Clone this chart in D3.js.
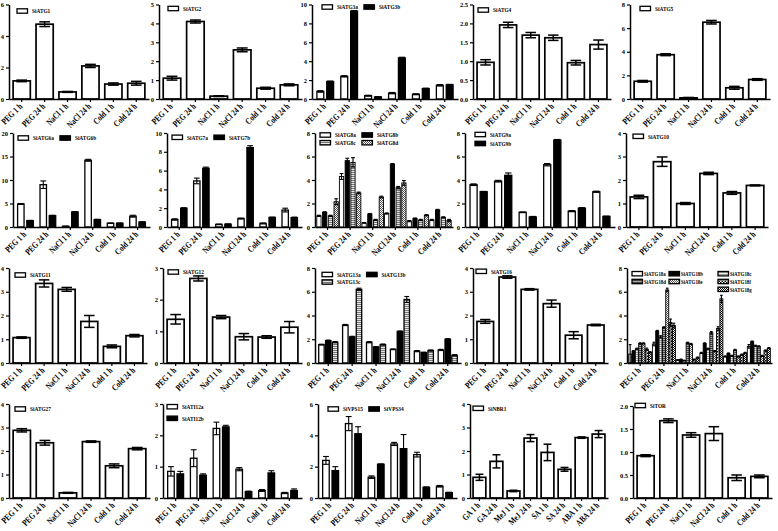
<!DOCTYPE html>
<html><head><meta charset="utf-8">
<script src="https://cdn.jsdelivr.net/npm/d3@7"></script>
<style>
body{margin:0;background:#fff}
svg{display:block}
text{font-family:"Liberation Serif","Times New Roman",serif;font-weight:bold;fill:#000}
</style>
</head><body><svg id="c" width="778" height="531"></svg>
<script>
// ---------- DATA ----------
const stressCats = ["PEG 1 h","PEG 24 h","NaCl 1 h","NaCl 24 h","Cold 1 h","Cold 24 h"];
const hormoneCats = ["GA 1 h","GA 24 h","MeJ 1 h","MeJ 24 h","SA 1 h","SA 24 h","ABA 1 h","ABA 24 h"];

const ticks6 = [0,2,4,6];
const ticks5 = [0,1,2,3,4,5];
const ticks10 = [0,2,4,6,8,10];
const ticks25 = [0,0.5,1,1.5,2,2.5];
const ticks8 = [0,2,4,6,8];
const ticks20 = [0,5,10,15,20];
const ticks4 = [0,1,2,3,4];
const ticks3 = [0,1,2,3];
const ticks2 = [0,0.5,1,1.5,2];

const atg1 = [1.15,4.75,0.45,2.1,0.95,1.0],  atg1E = [0.05,0.15,0.03,0.1,0.07,0.12];
const atg2 = [1.1,4.1,0.15,2.6,0.57,0.75],   atg2E = [0.1,0.08,0.02,0.1,0.05,0.05];
const atg3a = [0.8,2.4,0.35,0.62,0.5,1.45],  atg3aE = [0.08,0.07,0.05,0.07,0.05,0.08];
const atg3b = [1.85,9.3,0.22,4.35,1.1,1.5],  atg3bE = [0.05,0.05,0.03,0.07,0.05,0.05];
const atg4 = [0.97,1.96,1.69,1.62,0.96,1.44], atg4E = [0.07,0.07,0.07,0.07,0.06,0.12];
const atg5 = [1.5,3.75,0.1,6.5,0.95,1.65],   atg5E = [0.07,0.08,0.03,0.15,0.12,0.07];
const atg6a = [4.9,9.0,0.15,14.2,0.8,2.3],   atg6aE = [0.1,0.8,0.02,0.2,0.05,0.2];
const atg6b = [1.35,2.4,3.2,1.55,0.8,1.05],  atg6bE = [0.07,0.1,0.05,0.1,0.05,0.05];
const atg7a = [0.8,4.9,0.28,0.9,0.38,1.8],   atg7aE = [0.07,0.3,0.03,0.05,0.05,0.2];
const atg7b = [2.0,6.25,0.3,8.45,1.02,1.0],  atg7bE = [0.05,0.12,0.03,0.2,0.03,0.05];
const atg8a = [0.95,4.3,0.35,1.15,0.5,0.6],  atg8aE = [0.05,0.25,0.03,0.05,0.05,0.05];
const atg8b = [1.25,5.65,1.1,5.35,0.72,1.45], atg8bE = [0.05,0.2,0.05,0.05,0.05,0.05];
const atg8c = [0.95,5.5,0.6,3.35,0.6,0.82],  atg8cE = [0.05,0.4,0.05,0.1,0.05,0.05];
const atg8d = [2.15,2.9,2.55,3.75,1.0,0.55], atg8dE = [0.25,0.07,0.07,0.2,0.05,0.1];
const atg9a = [3.6,3.9,1.25,5.3,1.35,3.0],   atg9aE = [0.07,0.07,0.03,0.1,0.05,0.05];
const atg9b = [3.0,4.4,0.85,7.4,1.6,0.9],    atg9bE = [0.03,0.2,0.05,0.05,0.05,0.03];
const atg10 = [1.28,2.78,1.0,2.28,1.45,1.77], atg10E = [0.07,0.2,0.04,0.05,0.06,0.02];
const atg11 = [1.07,3.35,3.1,1.75,0.7,1.15], atg11E = [0.03,0.15,0.08,0.25,0.06,0.05];
const atg12 = [1.38,2.67,1.45,0.83,0.82,1.13], atg12E = [0.15,0.08,0.05,0.1,0.04,0.18];
const atg13a = [1.55,3.2,1.75,1.15,1.0,1.1], atg13aE = [0.03,0.05,0.05,0.03,0.05,0.05];
const atg13b = [1.88,2.2,1.35,2.65,0.88,2.0], atg13bE = [0.05,0.05,0.03,0.05,0.03,0.05];
const atg13c = [1.75,6.2,1.55,5.35,1.05,0.65], atg13cE = [0.05,0.1,0.05,0.25,0.05,0.05];
const atg16 = [1.75,3.62,3.1,2.5,1.17,1.6],  atg16E = [0.08,0.05,0.03,0.15,0.15,0.03];
const atg18a = [0.75,1.6,0.25,0.85,0.55,1.4], atg18aE = [0.8,0.15,0.03,0.05,0.05,0.15];
const atg18b = [1.0,2.7,0.3,1.65,0.8,1.8],   atg18bE = [0.05,0.05,0.03,0.05,0.05,0.05];
const atg18c = [1.2,2.2,0.2,1.2,0.6,1.45],   atg18cE = [0.05,0.1,0.03,0.05,0.05,0.05];
const atg18d = [1.65,3.0,1.7,2.55,1.1,1.4],  atg18dE = [0.05,0.05,0.05,0.1,0.05,0.05];
const atg18e = [1.65,6.15,1.6,1.0,0.55,0.6], atg18eE = [0.05,0.15,0.05,0.05,0.05,0.05];
const atg18f = [1.15,3.4,0.3,2.9,0.7,1.05],  atg18fE = [0.1,0.3,0.03,0.15,0.05,0.05];
const atg18g = [0.9,3.15,0.45,5.4,0.85,1.25], atg18gE = [0.05,0.2,0.05,0.3,0.05,0.05];
const atg27 = [2.88,2.35,0.22,2.4,1.37,2.1],  atg27E = [0.07,0.1,0.02,0.03,0.08,0.05];
const ati12a = [0.85,1.27,2.22,0.92,0.24,0.16], ati12aE = [0.15,0.27,0.2,0.05,0.03,0.02];
const ati12b = [0.77,0.73,2.27,0.2,0.8,0.24], ati12bE = [0.08,0.04,0.05,0.02,0.07,0.05];
const vps15 = [2.4,4.75,1.33,3.45,2.77,0.75], vps15E = [0.25,0.45,0.08,0.1,0.15,0.05];
const vps34 = [1.75,4.1,2.15,3.15,0.68,0.34], vps34E = [0.25,0.45,0.03,0.9,0.03,0.03];
const nbr1 = [0.88,1.56,0.3,2.55,1.94,1.22,2.57,2.72], nbr1E = [0.13,0.28,0.03,0.15,0.35,0.08,0.03,0.15];
const tor = [0.92,1.68,1.37,1.4,0.44,0.47],  torE = [0.02,0.04,0.05,0.15,0.06,0.03];

// ---------- PANELS (built from the arrays above) ----------
const W="white", B="black";
const panels = [
 {names:["SiATG1"], vals:[atg1], errs:[atg1E], fills:[W], ticks:ticks6, cats:stressCats},
 {names:["SiATG2"], vals:[atg2], errs:[atg2E], fills:[W], ticks:ticks5, cats:stressCats},
 {names:["SiATG3a","SiATG3b"], vals:[atg3a,atg3b], errs:[atg3aE,atg3bE], fills:[W,B], ticks:ticks10, cats:stressCats},
 {names:["SiATG4"], vals:[atg4], errs:[atg4E], fills:[W], ticks:ticks25, cats:stressCats},
 {names:["SiATG5"], vals:[atg5], errs:[atg5E], fills:[W], ticks:ticks8, cats:stressCats},
 {names:["SiATG6a","SiATG6b"], vals:[atg6a,atg6b], errs:[atg6aE,atg6bE], fills:[W,B], ticks:ticks20, cats:stressCats},
 {names:["SiATG7a","SiATG7b"], vals:[atg7a,atg7b], errs:[atg7aE,atg7bE], fills:[W,B], ticks:ticks10, cats:stressCats},
 {names:["SiATG8a","SiATG8b","SiATG8c","SiATG8d"], vals:[atg8a,atg8b,atg8c,atg8d], errs:[atg8aE,atg8bE,atg8cE,atg8dE], fills:[W,B,"url(#pStripe)","url(#pCheck)"], ticks:ticks8, cats:stressCats},
 {names:["SiATG9a","SiATG9b"], vals:[atg9a,atg9b], errs:[atg9aE,atg9bE], fills:[W,B], ticks:ticks8, cats:stressCats},
 {names:["SiATG10"], vals:[atg10], errs:[atg10E], fills:[W], ticks:ticks4, cats:stressCats},
 {names:["SiATG11"], vals:[atg11], errs:[atg11E], fills:[W], ticks:ticks4, cats:stressCats},
 {names:["SiATG12"], vals:[atg12], errs:[atg12E], fills:[W], ticks:ticks3, cats:stressCats},
 {names:["SiATG13a","SiATG13b","SiATG13c"], vals:[atg13a,atg13b,atg13c], errs:[atg13aE,atg13bE,atg13cE], fills:[W,B,"url(#pStripe)"], ticks:ticks8, cats:stressCats},
 {names:["SiATG16"], vals:[atg16], errs:[atg16E], fills:[W], ticks:ticks4, cats:stressCats},
 {names:["SiATG18a","SiATG18b","SiATG18c","SiATG18d","SiATG18e","SiATG18f","SiATG18g"],
  vals:[atg18a,atg18b,atg18c,atg18d,atg18e,atg18f,atg18g], errs:[atg18aE,atg18bE,atg18cE,atg18dE,atg18eE,atg18fE,atg18gE],
  fills:[W,B,"url(#pStripeL)","url(#pStripeD)","url(#pCheck)","url(#pBlk)","url(#pCross)"], ticks:ticks8, cats:stressCats},
 {names:["SiATG27"], vals:[atg27], errs:[atg27E], fills:[W], ticks:ticks4, cats:stressCats},
 {names:["SiATI12a","SiATI12b"], vals:[ati12a,ati12b], errs:[ati12aE,ati12bE], fills:[W,B], ticks:ticks3, cats:stressCats},
 {names:["SiVPS15","SiVPS34"], vals:[vps15,vps34], errs:[vps15E,vps34E], fills:[W,B], ticks:ticks6, cats:stressCats},
 {names:["SiNBR1"], vals:[nbr1], errs:[nbr1E], fills:[W], ticks:ticks4, cats:hormoneCats},
 {names:["SiTOR"], vals:[tor], errs:[torE], fills:[W], ticks:ticks2, cats:stressCats}
];

// ---------- LAYOUT ----------
const rowTop = [4.5,133,268,404];
const rowBase = [99,227,363,498];
const layout = [
 {l:9,r:149,row:0,lx:8,ly:6.5},{l:159,r:302,row:0,lx:9,ly:4},{l:312,r:458,row:0,lx:10,ly:2.5},{l:473,r:611,row:0,lx:5,ly:5.5},{l:630,r:770,row:0,lx:10,ly:4},
 {l:13,r:150,row:1,lx:5,ly:5},{l:167,r:302,row:1,lx:5,ly:4.3},{l:315,r:453,row:1,lx:5,ly:2,grid:[[0,0],[1,0],[0,1],[1,1]],rg:7.7},{l:465,r:615,row:1,lx:10,ly:1.5,grid:[[0,0],[0,1]],rg:9},{l:626,r:768,row:1,lx:7,ly:3.3},
 {l:9,r:147,row:2,lx:6,ly:7},{l:163,r:302,row:2,lx:5,ly:4},{l:315,r:461,row:2,lx:7,ly:6.5,grid:[[0,0],[1,0],[0,1]],rg:7.5},{l:473,r:608,row:2,lx:3,ly:3.3},{l:627,r:772,row:2,lx:5,ly:5.7,grid:[[0,0],[1,0],[2,0],[0,1],[1,1],[2,1],[2,2]],rg:7.8,cols:[0,37,86],fs:6},
 {l:9,r:150,row:3,lx:6,ly:5},{l:163,r:302,row:3,lx:4,ly:2.7,grid:[[0,0],[0,1]],rg:11.6},{l:318,r:457,row:3,lx:10,ly:5},{l:470,r:608,row:3,lx:3,ly:4.3},{l:633,r:772,row:3,lx:2,ly:-0.5,top:406}
];
const groupFrac = {1:0.75,2:0.7,3:0.8,4:0.95,7:0.97};
const innerPad = {1:0,2:0.3,3:0.2,4:0.26,7:0.1};

// ---------- DRAW ----------
const svg = d3.select("#c");
svg.append("rect").attr("width",778).attr("height",531).attr("fill","#fff");
const defs = svg.append("defs");
function pattern(id,w,h,bg,rects){
  const p = defs.append("pattern").attr("id",id).attr("patternUnits","userSpaceOnUse").attr("width",w).attr("height",h);
  p.append("rect").attr("width",w).attr("height",h).attr("fill",bg);
  rects.forEach(r=>p.append("rect").attr("x",r[0]).attr("y",r[1]).attr("width",r[2]).attr("height",r[3]).attr("fill",r[4]));
}
pattern("pStripe",2,2,"#e6e6e6",[[0,0,2,1,"#777"]]);
pattern("pStripeL",2,2,"#eee",[[0,0,2,1,"#999"]]);
pattern("pStripeD",2,2,"#aaa",[[0,0,2,1,"#444"]]);
pattern("pCheck",2,2,"#fff",[[0,0,1,1,"#555"],[1,1,1,1,"#555"]]);
pattern("pBlk",3,3,"#fff",[[0,0,1.5,1.5,"#000"],[1.5,1.5,1.5,1.5,"#000"]]);
pattern("pCross",4,4,"#fff",[[0,0,1,1,"#000"],[2,0,1,1,"#000"],[1,1,1,1,"#000"],[0,2,1,1,"#000"],[2,2,1,1,"#000"],[3,3,1,1,"#000"],[3,1,1,1,"#000"],[1,3,1,1,"#000"]]);

panels.forEach((p,i)=>{
  const L = layout[i];
  const top = L.top ?? rowTop[L.row], base = rowBase[L.row];
  const y = d3.scaleLinear().domain([0,d3.max(p.ticks)]).range([base,top]);
  const x = d3.scaleBand().domain(p.cats).range([L.l,L.r]).paddingInner(0.25).paddingOuter(0.18);
  const n = p.vals.length;
  const gw = x.step()*groupFrac[n];
  const xi = d3.scaleBand().domain(d3.range(n)).range([0,gw]).paddingInner(innerPad[n]);
  const bw = xi.bandwidth();
  const g = svg.append("g");
  const sw = n===1?1.7:(n<4?1.3:0.9);
  const cap = n===1?bw*0.62:bw*0.9;
  p.cats.forEach((c,ci)=>{
    const cx = x(c)+x.bandwidth()/2;
    for(let s=0;s<n;s++){
      const v = p.vals[s][ci], e = p.errs[s][ci];
      const bx = cx-gw/2+xi(s);
      g.append("rect").attr("x",bx).attr("y",y(v)).attr("width",bw).attr("height",base-y(v))
        .attr("fill",p.fills[s]).attr("stroke","#000").attr("stroke-width",sw);
      const mx = bx+bw/2, y1 = y(v+e), y0 = y(Math.max(0,v-e));
      const eg = g.append("g").attr("stroke","#000").attr("stroke-width",n===1?1.5:1.1);
      eg.append("line").attr("x1",mx).attr("x2",mx).attr("y1",y1).attr("y2",y0);
      eg.append("line").attr("x1",mx-cap/2).attr("x2",mx+cap/2).attr("y1",y1).attr("y2",y1);
      eg.append("line").attr("x1",mx-cap/2).attr("x2",mx+cap/2).attr("y1",y0).attr("y2",y0);
    }
  });
  // y axis
  const dec = p.ticks.some(t=>t%1!==0);
  const ya = g.append("g").attr("transform",`translate(${L.l},0)`)
    .call(d3.axisLeft(y).tickValues(p.ticks).tickSize(3).tickSizeOuter(0).tickPadding(2).tickFormat(d3.format(dec?".1f":"d")));
  ya.attr("font-family",null).attr("font-size",6.5);
  ya.select(".domain").attr("stroke-width",1.5);
  ya.selectAll(".tick line").attr("stroke-width",1.2);
  // x axis
  const xa = g.append("g").attr("transform",`translate(0,${base})`)
    .call(d3.axisBottom(x).tickSize(3).tickSizeOuter(0));
  xa.attr("font-family",null).attr("font-size",9);
  xa.select(".domain").attr("stroke-width",1.5);
  xa.selectAll(".tick line").attr("stroke-width",1.2);
  xa.selectAll(".tick text").attr("x",0).attr("y",0).attr("dy",0).attr("text-anchor","end")
    .attr("transform","translate(1.2,8) rotate(-45)")
    .each(function(){ const w=this.getComputedTextLength()*0.78; d3.select(this).attr("textLength",w).attr("lengthAdjust","spacingAndGlyphs"); });
  // legend
  const grid = L.grid || p.names.map((_,k)=>[k,0]);
  const rg = L.rg || 8, cg = L.cg ?? 6;
  const bx0 = L.l+(L.lx??6), yc0 = top+(L.ly??5);
  const ncol = d3.max(grid,d=>d[0])+1;
  const colW = new Array(ncol).fill(0);
  const items = p.names.map((nm,k)=>{
    const t = g.append("text").attr("font-size",L.fs||6.5).text(nm);
    const w = t.node().getComputedTextLength()*0.82;
    t.attr("textLength",w).attr("lengthAdjust","spacingAndGlyphs");
    colW[grid[k][0]] = Math.max(colW[grid[k][0]],w);
    return t;
  });
  let colX=[bx0];
  if(L.cols) colX = L.cols.map(o=>bx0+o);
  else for(let c=1;c<ncol;c++) colX[c]=colX[c-1]+15+colW[c-1]+cg;
  items.forEach((t,k)=>{
    const [c,r]=grid[k]; const bx=colX[c], yc=yc0+r*rg;
    g.append("rect").attr("x",bx).attr("y",yc-2.2).attr("width",10.5).attr("height",4.4)
      .attr("fill",p.fills[k]).attr("stroke","#000").attr("stroke-width",1.3);
    t.attr("x",bx+(L.fs?12:15)).attr("y",yc+2.3);
  });
});
</script></body></html>
